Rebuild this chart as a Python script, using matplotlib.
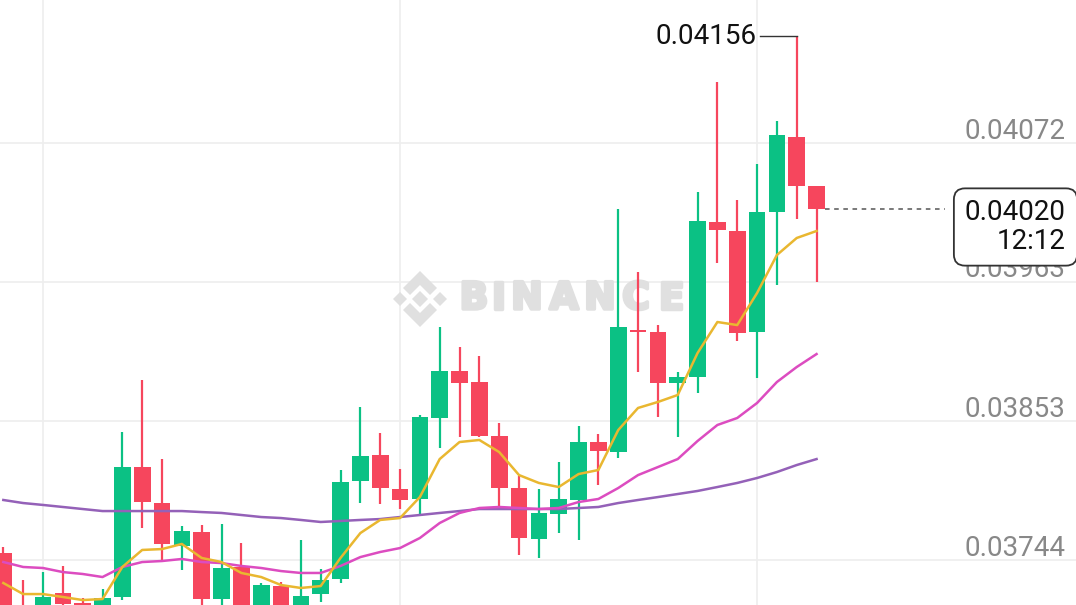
import matplotlib
matplotlib.use('Agg')
import matplotlib.pyplot as plt
import matplotlib.transforms as mtransforms
import matplotlib.patheffects as pe
from matplotlib.patches import Polygon
import numpy as np

plt.rcParams['font.family'] = ['Roboto', 'DejaVu Sans']

# candle data (oldest -> newest)
opens = [0.037495, 0.037078, 0.037031, 0.037180, 0.037102, 0.037007, 0.037149, 0.038171,
         0.037888, 0.037550, 0.037660, 0.037133, 0.037385, 0.037031, 0.037235, 0.037047,
         0.037172, 0.037290, 0.038061, 0.038266, 0.037998, 0.037920, 0.038557, 0.038927,
         0.038840, 0.038415, 0.038006, 0.037605, 0.037802, 0.037912, 0.038368, 0.038289,
         0.039249, 0.039233, 0.038832, 0.038879, 0.040099, 0.040028, 0.039233, 0.040177,
         0.040767, 0.040382]
highs = [0.037542, 0.037283, 0.037345, 0.037393, 0.037141, 0.037212, 0.038447, 0.038856,
         0.038234, 0.037707, 0.037715, 0.037723, 0.037574, 0.037259, 0.037267, 0.037597,
         0.037369, 0.038148, 0.038643, 0.038439, 0.038156, 0.038580, 0.039273, 0.039115,
         0.039045, 0.038518, 0.038101, 0.037998, 0.038211, 0.038494, 0.038431, 0.040201,
         0.039705, 0.039288, 0.038919, 0.040335, 0.041200, 0.040272, 0.040555, 0.040893,
         0.041560, 0.040382]
lows = [0.036929, 0.036889, 0.036968, 0.037031, 0.037007, 0.036968, 0.037125, 0.037692,
        0.037424, 0.037361, 0.037078, 0.037078, 0.036968, 0.036968, 0.036984, 0.036984,
        0.037109, 0.037259, 0.037888, 0.037880, 0.037841, 0.037786, 0.038321, 0.038407,
        0.038407, 0.037849, 0.037479, 0.037456, 0.037652, 0.037597, 0.038030, 0.038242,
        0.038919, 0.038565, 0.038407, 0.038753, 0.039776, 0.039163, 0.038871, 0.039603,
        0.040122, 0.039627]
closes = [0.037007, 0.036952, 0.037149, 0.037094, 0.037062, 0.037141, 0.038171, 0.037896,
          0.037566, 0.037668, 0.037133, 0.037377, 0.037031, 0.037243, 0.037031, 0.037157,
          0.037283, 0.038053, 0.038258, 0.038006, 0.037912, 0.038565, 0.038927, 0.038832,
          0.038415, 0.038006, 0.037613, 0.037810, 0.037920, 0.038368, 0.038297, 0.039273,
          0.039233, 0.038832, 0.038879, 0.040106, 0.040036, 0.039225, 0.040177, 0.040783,
          0.040382, 0.040200]

# moving averages as drawn on the chart
ma7 = [0.037259, 0.037172, 0.037172, 0.037149, 0.037125, 0.037133, 0.037385, 0.037519,
       0.037526, 0.037566, 0.037456, 0.037424, 0.037338, 0.037306, 0.037243, 0.037220,
       0.037235, 0.037456, 0.037652, 0.037755, 0.037770, 0.037935, 0.038234, 0.038368,
       0.038384, 0.038289, 0.038108, 0.038046, 0.038014, 0.038116, 0.038148, 0.038462,
       0.038636, 0.038683, 0.038738, 0.039068, 0.039312, 0.039288, 0.039540, 0.039839,
       0.039973, 0.040028]
ma25 = [0.037424, 0.037385, 0.037377, 0.037345, 0.037330, 0.037306, 0.037385, 0.037424,
        0.037432, 0.037448, 0.037424, 0.037416, 0.037393, 0.037377, 0.037353, 0.037338,
        0.037338, 0.037393, 0.037463, 0.037503, 0.037534, 0.037613, 0.037731, 0.037810,
        0.037849, 0.037857, 0.037849, 0.037841, 0.037849, 0.037896, 0.037920, 0.038006,
        0.038108, 0.038171, 0.038234, 0.038376, 0.038502, 0.038557, 0.038675, 0.038840,
        0.038958, 0.039060]
ma99 = [0.037912, 0.037888, 0.037873, 0.037857, 0.037841, 0.037825, 0.037825, 0.037825,
        0.037825, 0.037825, 0.037817, 0.037810, 0.037794, 0.037778, 0.037770, 0.037755,
        0.037739, 0.037747, 0.037755, 0.037762, 0.037778, 0.037794, 0.037810, 0.037825,
        0.037841, 0.037841, 0.037841, 0.037841, 0.037841, 0.037849, 0.037857, 0.037888,
        0.037912, 0.037935, 0.037959, 0.037983, 0.038014, 0.038046, 0.038085, 0.038132,
        0.038187, 0.038234]

price_ticks = [0.04072, 0.03963, 0.03853, 0.03744]
tick_labels = ['0.04072', '0.03963', '0.03853', '0.03744']
time_grid = [2, 20, 38]
high_label = '0.04156'
last_label = '0.04020\n12:12'

W, H = 1076, 605
fig = plt.figure(figsize=(W / 100, H / 100), dpi=100)
ax = fig.add_axes([0, 0, 1, 1])
ax.set_xlim(-0.168, 54.08)
ax.set_ylim(0.037086, 0.041845)
ax.axis('off')

# pixel-space transform for the overlay bits (y down, like the screenshot)
px = mtransforms.Affine2D().scale(1 / W, -1 / H).translate(0, 1) + fig.transFigure

# grid
for v in price_ticks:
    ax.axhline(v, color='#eeeeee', lw=1.2, zorder=0)
for i in time_grid:
    ax.axvline(i, color='#eeeeee', lw=1.2, zorder=0)

# watermark
wm = '#e0e0e0'
cx, cy = 420, 299
logo = [
    [(0, -8), (8, 0), (0, 8), (-8, 0)],
    [(-20, -7), (-13, 0), (-20, 7), (-27, 0)],
    [(20, -7), (27, 0), (20, 7), (13, 0)],
    [(0, -28), (17, -11), (10, -4), (0, -14), (-10, -4), (-17, -11)],
    [(0, 28), (17, 11), (10, 4), (0, 14), (-10, 4), (-17, 11)],
]
for shape in logo:
    ax.add_patch(Polygon([(cx + a, cy + b) for a, b in shape], closed=True,
                         facecolor=wm, edgecolor='none', transform=px, zorder=0.5))
for ch, xc in zip('BINANCE', [474, 499, 527, 564, 600, 636, 671]):
    ax.text(xc, cy, ch, transform=px, ha='center', va='center', fontsize=27,
            fontweight='bold', family='DejaVu Sans', color=wm, zorder=0.5,
            path_effects=[pe.withStroke(linewidth=2.5, foreground=wm)])

# candles
o = np.array(opens)
c = np.array(closes)
x = np.arange(len(o))
up = c >= o
colors = np.where(up, '#0bc184', '#f6465d')
bottom = np.minimum(o, c)
height = np.maximum(np.abs(c - o), 0.000012)
ax.vlines(x, lows, highs, colors=colors, lw=1.6, zorder=2)
ax.bar(x, height, bottom=bottom, width=0.84, color=colors, zorder=3)

# moving averages
ax.plot(x, ma99, color='#9461b8', lw=1.8, zorder=4)
ax.plot(x, ma25, color='#dc4cc0', lw=1.8, zorder=4)
ax.plot(x, ma7, color='#e9b730', lw=1.8, zorder=4)

# price scale labels
for v, lab in zip(price_ticks, tick_labels):
    ax.annotate(lab, xy=(1065 / W, v), xycoords=('axes fraction', 'data'),
                xytext=(0, 3), textcoords='offset points', ha='right', va='baseline',
                fontsize=20, color='#888888', zorder=5)

# highest price marker
hi_i = int(np.argmax(highs))
ax.plot([38.15, hi_i], [highs[hi_i], highs[hi_i]], color='#333333', lw=1.0, zorder=5)
ax.text(38.0, highs[hi_i], high_label, ha='right', va='center', fontsize=20,
        color='#111111', zorder=5)

# last price line + box
ax.hlines(closes[-1], len(o) - 1 + 0.45, 47.5, colors='#555555', lw=1.1,
          linestyles=(0, (3, 3)), zorder=5)
ax.text(1066, 227, last_label, transform=px, ha='right', va='center', ma='right',
        fontsize=20, color='#111111', linespacing=1.05, zorder=6,
        bbox=dict(boxstyle='round,pad=0.4,rounding_size=0.4', facecolor='white',
                  edgecolor='#333333', lw=1.3))

fig.savefig('out.png', dpi=100)
